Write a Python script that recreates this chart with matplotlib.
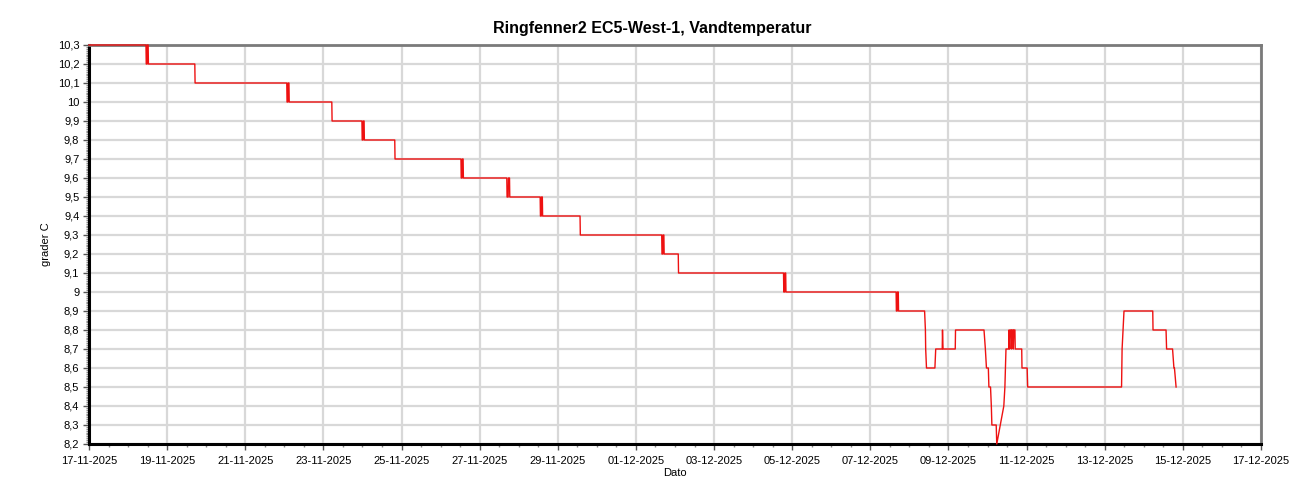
import matplotlib
matplotlib.use("Agg")
import matplotlib.pyplot as plt
import matplotlib.dates as mdates
from matplotlib.ticker import MultipleLocator, FuncFormatter
import pandas as pd

plt.rcParams['font.family'] = ['Liberation Sans', 'DejaVu Sans']

# maalinger (aflaest fra figuren)
tider = [
    "2025-11-17 00:00", "2025-11-18 11:00", "2025-11-18 11:10", "2025-11-18 11:40",
    "2025-11-18 11:50", "2025-11-18 12:20", "2025-11-18 12:30",
    "2025-11-19 17:00", "2025-11-19 17:10",
    "2025-11-22 01:30", "2025-11-22 01:40", "2025-11-22 02:10", "2025-11-22 02:20",
    "2025-11-22 02:50", "2025-11-22 03:00",
    "2025-11-23 05:10", "2025-11-23 05:20",
    "2025-11-23 23:40", "2025-11-23 23:50", "2025-11-24 00:20", "2025-11-24 00:30",
    "2025-11-24 01:00", "2025-11-24 01:10",
    "2025-11-24 19:50", "2025-11-24 20:00",
    "2025-11-26 12:30", "2025-11-26 12:40", "2025-11-26 13:10", "2025-11-26 13:20",
    "2025-11-26 13:50", "2025-11-26 14:00",
    "2025-11-27 16:40", "2025-11-27 16:50", "2025-11-27 17:30", "2025-11-27 17:40",
    "2025-11-27 18:20", "2025-11-27 18:30",
    "2025-11-28 13:10", "2025-11-28 13:20", "2025-11-28 13:50", "2025-11-28 14:00",
    "2025-11-28 14:30", "2025-11-28 14:40",
    "2025-11-29 13:40", "2025-11-29 13:50",
    "2025-12-01 15:50", "2025-12-01 16:00", "2025-12-01 16:30", "2025-12-01 16:40",
    "2025-12-01 17:10", "2025-12-01 17:20",
    "2025-12-02 02:00", "2025-12-02 02:10",
    "2025-12-04 18:40", "2025-12-04 18:50", "2025-12-04 19:20", "2025-12-04 19:30",
    "2025-12-04 20:00", "2025-12-04 20:10",
    "2025-12-07 15:50", "2025-12-07 16:00", "2025-12-07 16:30", "2025-12-07 16:40",
    "2025-12-07 17:10", "2025-12-07 17:20",
    "2025-12-08 09:20", "2025-12-08 09:50", "2025-12-08 10:00", "2025-12-08 10:30",
    "2025-12-08 15:40", "2025-12-08 16:10",
    "2025-12-08 20:10", "2025-12-08 20:20", "2025-12-08 20:40",
    "2025-12-09 04:10", "2025-12-09 04:20",
    "2025-12-09 21:50", "2025-12-09 22:40", "2025-12-09 23:20",
    "2025-12-10 00:30", "2025-12-10 00:50", "2025-12-10 01:50", "2025-12-10 02:20",
    "2025-12-10 02:40", "2025-12-10 05:20", "2025-12-10 05:40", "2025-12-10 07:50",
    "2025-12-10 10:00", "2025-12-10 10:40", "2025-12-10 11:00", "2025-12-10 11:20",
    "2025-12-10 13:00", "2025-12-10 13:10", "2025-12-10 13:30", "2025-12-10 13:50",
    "2025-12-10 14:30", "2025-12-10 14:40", "2025-12-10 15:00", "2025-12-10 15:40",
    "2025-12-10 15:50", "2025-12-10 16:10", "2025-12-10 16:50", "2025-12-10 17:00",
    "2025-12-10 21:00", "2025-12-10 21:10",
    "2025-12-11 00:20", "2025-12-11 00:40",
    "2025-12-13 10:20", "2025-12-13 10:40", "2025-12-13 11:50",
    "2025-12-14 05:30", "2025-12-14 05:40",
    "2025-12-14 13:40", "2025-12-14 14:00",
    "2025-12-14 17:40", "2025-12-14 18:30", "2025-12-14 18:50", "2025-12-14 19:50",
]
grader = [
    10.3, 10.3, 10.2, 10.2,
    10.3, 10.3, 10.2,
    10.2, 10.1,
    10.1, 10.0, 10.0, 10.1,
    10.1, 10.0,
    10.0, 9.9,
    9.9, 9.8, 9.8, 9.9,
    9.9, 9.8,
    9.8, 9.7,
    9.7, 9.6, 9.6, 9.7,
    9.7, 9.6,
    9.6, 9.5, 9.5, 9.6,
    9.6, 9.5,
    9.5, 9.4, 9.4, 9.5,
    9.5, 9.4,
    9.4, 9.3,
    9.3, 9.2, 9.2, 9.3,
    9.3, 9.2,
    9.2, 9.1,
    9.1, 9.0, 9.0, 9.1,
    9.1, 9.0,
    9.0, 8.9, 8.9, 9.0,
    9.0, 8.9,
    8.9, 8.8, 8.7, 8.6,
    8.6, 8.7,
    8.7, 8.8, 8.7,
    8.7, 8.8,
    8.8, 8.7, 8.6,
    8.6, 8.5, 8.5, 8.4,
    8.3, 8.3, 8.2, 8.3,
    8.4, 8.5, 8.6, 8.7,
    8.7, 8.8, 8.7, 8.8,
    8.8, 8.7, 8.8, 8.8,
    8.7, 8.8, 8.8, 8.7,
    8.7, 8.6,
    8.6, 8.5,
    8.5, 8.7, 8.9,
    8.9, 8.8,
    8.8, 8.7,
    8.7, 8.6, 8.6, 8.5,
]

x_start = pd.Timestamp("2025-11-17")
x_slut = pd.Timestamp("2025-12-17")
y_min, y_max = 8.2, 10.3

t = pd.to_datetime(tider)

fig = plt.figure(figsize=(13, 5), dpi=100)
ax = fig.add_axes([89 / 1300, 1 - 444 / 500, (1261 - 89) / 1300, (444 - 45) / 500])

ax.plot(t, grader, color='#ee1111', lw=1.0, zorder=3, clip_on=False)

ax.set_xlim(x_start, x_slut)
ax.set_ylim(y_min, y_max)

# akser
ax.set_xticks(pd.date_range(x_start, x_slut, freq='2D'))
ax.set_xticks(pd.date_range(x_start, x_slut, freq='12h'), minor=True)
ax.xaxis.set_major_formatter(mdates.DateFormatter('%d-%m-%Y'))
ax.yaxis.set_major_locator(MultipleLocator(0.1))
ax.yaxis.set_minor_locator(MultipleLocator(0.01))
ax.yaxis.set_major_formatter(FuncFormatter(lambda v, p: f"{v:.1f}".rstrip('0').rstrip('.').replace('.', ',')))

ax.tick_params(axis='both', which='major', labelsize=8, length=4, width=1, color='#555555')
ax.tick_params(axis='x', which='major', pad=5)
ax.tick_params(axis='y', which='major', pad=3)
ax.tick_params(axis='both', which='minor', length=2, width=1, color='#888888')

ax.grid(True, which='major', color='#d8d8d8', lw=1.6, zorder=0)

for side in ['top', 'right']:
    ax.spines[side].set_color('#7a7a7a')
    ax.spines[side].set_linewidth(2)
for side in ['left', 'bottom']:
    ax.spines[side].set_color('black')
    ax.spines[side].set_linewidth(2.2)

fig.suptitle('Ringfenner2 EC5-West-1, Vandtemperatur', x=0.502, y=0.942,
             fontsize=11.5, fontweight='bold', va='center')
ax.set_xlabel('Dato', fontsize=8, labelpad=1)
ax.set_ylabel('grader C', fontsize=8, labelpad=5)

fig.savefig('out.png', dpi=100)
